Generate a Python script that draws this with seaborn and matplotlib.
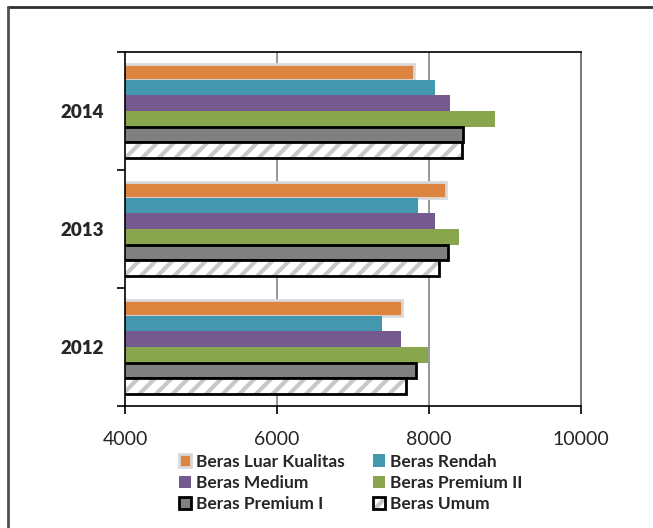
import numpy as np
import pandas as pd
import matplotlib
matplotlib.use("Agg")
import matplotlib.pyplot as plt
import seaborn as sns
from matplotlib.lines import Line2D
from matplotlib.ticker import FixedLocator, NullFormatter, FixedFormatter

# ---- data ----
years = ["2014", "2013", "2012"]
series = ["Beras Luar Kualitas", "Beras Rendah", "Beras Medium",
          "Beras Premium II", "Beras Premium I", "Beras Umum"]
luar_kualitas = [7800, 8220, 7640]
rendah = [8080, 7855, 7385]
medium = [8270, 8080, 7630]
premium_ii = [8870, 8390, 7990]
premium_i = [8450, 8250, 7830]
umum = [8430, 8130, 7700]
x_ticks = [4000, 6000, 8000, 10000]
colors = ["#DD8440", "#4398AF", "#745A8F", "#89A54E", "#808080", "#FFFFFF"]

values = [luar_kualitas, rendah, medium, premium_ii, premium_i, umum]
df = pd.DataFrame([{"year": y, "series": s, "value": v[i]}
                   for s, v in zip(series, values) for i, y in enumerate(years)])

sns.set_theme(style="white")
plt.rcParams["font.family"] = ["Lato", "DejaVu Sans"]
plt.rcParams["hatch.linewidth"] = 3.0

fig = plt.figure(figsize=(6.53, 5.28), dpi=100)
ax = fig.add_axes([125 / 653, 1 - 406 / 528, (581 - 125) / 653, (406 - 52) / 528])

sns.barplot(data=df, y="year", x="value", hue="series", order=years,
            hue_order=series, orient="h", width=0.79, palette=colors,
            saturation=1, ax=ax, legend=False, linewidth=0)

ax.set_xlim(4000, 10000)
ax.set_ylim(2.5, -0.5)
ax.set_xlabel("")
ax.set_ylabel("")

# styling of bar series
conts = ax.containers
for p in conts[0]:
    p.set_edgecolor("#D9D9D9")
    p.set_linewidth(2.0)
for p in conts[4]:
    p.set_edgecolor("black")
    p.set_linewidth(2.0)
for p in conts[5]:
    p.set_facecolor("white")
    p.set_hatch("//")
    p.set_edgecolor("black")
    p.set_linewidth(2.0)
    if hasattr(p, "set_hatchcolor"):
        p.set_hatchcolor("#C8C8C8")
    else:
        p._hatch_color = matplotlib.colors.to_rgba("#C8C8C8")

# grid lines
ax.set_xticks(x_ticks)
ax.set_xticklabels([str(t) for t in x_ticks], fontsize=14)
for t in x_ticks[1:-1]:
    ax.axvline(t, color="#868686", lw=1.2, zorder=0)
ax.set_axisbelow(True)

# y ticks: boundaries as major, labels at centers as minor
ax.yaxis.set_major_locator(FixedLocator([-0.5, 0.5, 1.5, 2.5]))
ax.yaxis.set_major_formatter(NullFormatter())
ax.yaxis.set_minor_locator(FixedLocator([0, 1, 2]))
ax.yaxis.set_minor_formatter(FixedFormatter(years))
ax.tick_params(axis="y", which="major", direction="out", length=6, width=1.2, color="black", left=True)
ax.tick_params(axis="y", which="minor", length=0, pad=15, labelsize=13.5)
for lbl in ax.get_yticklabels(minor=True):
    lbl.set_fontweight("heavy")
ax.tick_params(axis="x", which="major", direction="out", length=6, width=1.2, color="black", pad=12, bottom=True)

for side in ["left", "bottom", "top"]:
    ax.spines[side].set_visible(True)
    ax.spines[side].set_color("black")
    ax.spines[side].set_linewidth(1.2)
ax.spines["right"].set_visible(True)
ax.spines["right"].set_color("#606060")
ax.spines["right"].set_linewidth(1.2)

# legend
order = [0, 2, 4, 1, 3, 5]
leg = fig.legend([conts[i] for i in order], [series[i] for i in order],
                 loc="upper left", bbox_to_anchor=(163 / 653, 1 - 438 / 528),
                 ncol=2, frameon=False, handlelength=0.7, handleheight=0.7,
                 handletextpad=0.3, columnspacing=1.6, labelspacing=0.3,
                 prop={"weight": "bold", "size": 12.5})

# outer chart frame
fig.add_artist(Line2D([8 / 653, 1], [1 - 7 / 528, 1 - 7 / 528], color="#303030", lw=2, transform=fig.transFigure))
fig.add_artist(Line2D([8 / 653, 8 / 653], [0, 1 - 7 / 528], color="#505050", lw=2, transform=fig.transFigure))

fig.savefig("out.png", dpi=100)
